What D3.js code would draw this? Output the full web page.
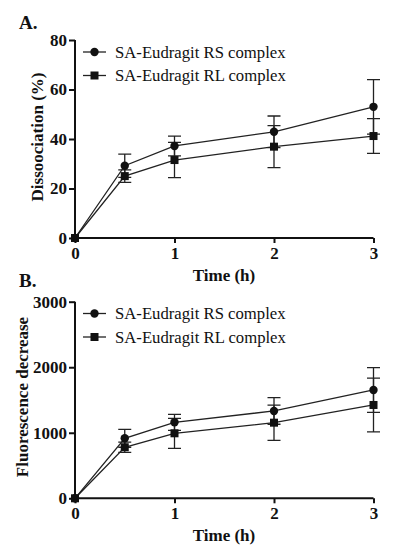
<!DOCTYPE html>
<html><head><meta charset="utf-8">
<script src="https://cdn.jsdelivr.net/npm/d3@7"></script>
<style>body{margin:0;background:#fff}svg{display:block}</style>
</head><body><svg id="c" width="397" height="550"></svg>
<script>
const time = [0, 0.5, 1, 2, 3];
const seriesNames = ["SA-Eudragit RS complex", "SA-Eudragit RL complex"];
// Panel A: Dissociation (%)
const aRS = [0, 29.2, 37.2, 42.9, 53.0];
const aRSerr = [0, 4.7, 4.0, 6.4, 11.0];
const aRL = [0, 25.0, 31.5, 36.9, 41.2];
const aRLerr = [0, 2.5, 7.1, 8.5, 7.0];
// Panel B: Fluorescence decrease
const bRS = [0, 916, 1160, 1333, 1653];
const bRSerr = [0, 137, 122, 203, 341];
const bRL = [0, 779, 992, 1154, 1424];
const bRLerr = [0, 77, 229, 269, 410];
const xTicks = [0, 1, 2, 3];
const aTicks = [0, 20, 40, 60, 80];
const bTicks = [0, 1000, 2000, 3000];

const svg = d3.select("#c");
const font = "'Liberation Serif','Times New Roman',serif";
const ink = "#111";

function panel(o) {
  const g = svg.append("g");
  const x = d3.scaleLinear().domain([0, 3]).range([75, 373.5]);
  const y = d3.scaleLinear().domain(o.ydom).range([o.y0, o.y1]);
  g.append("text").attr("x", 19).attr("y", o.labelY).text(o.letter)
    .attr("font-family", font).attr("font-weight", "bold").attr("font-size", 19).attr("fill", ink);
  const ya = g.append("g").attr("transform", "translate(75,0)")
    .call(d3.axisLeft(y).tickValues(o.ticks).tickSize(6).tickPadding(2).tickFormat(d3.format("d")));
  const xa = g.append("g").attr("transform", `translate(0,${o.y0})`)
    .call(d3.axisBottom(x).tickValues(xTicks).tickSize(5).tickPadding(4).tickFormat(d3.format("d")));
  [ya, xa].forEach(a => {
    a.select(".domain").attr("stroke", ink).attr("stroke-width", 2);
    a.selectAll(".tick line").attr("stroke", ink).attr("stroke-width", 2);
    a.selectAll("text").attr("font-family", font).attr("font-weight", "bold")
      .attr("font-size", 17).attr("fill", ink);
  });
  ya.select(".domain").attr("d", `M-0,${o.y1}V${o.y0}`);
  xa.select(".domain").attr("d", `M75,0H373.5`);
  g.append("text").attr("x", 224).attr("y", o.y0 + 43).attr("text-anchor", "middle")
    .text("Time (h)").attr("font-family", font).attr("font-weight", "bold").attr("font-size", 17).attr("fill", ink);
  g.append("text").attr("transform", `translate(${o.ylx},${o.yly}) rotate(-90)`)
    .attr("text-anchor", "middle").attr("dominant-baseline", "central")
    .text(o.ytitle).attr("font-family", font).attr("font-weight", "bold").attr("font-size", 17).attr("fill", ink);

  const series = [
    {v: o.rs, e: o.rse, shape: "circle"},
    {v: o.rl, e: o.rle, shape: "square"}
  ];
  const line = d3.line().x((d, i) => x(time[i])).y(d => y(d));
  series.forEach(s => {
    s.v.forEach((v, i) => {
      if (!s.e[i]) return;
      const cx = x(time[i]), t = y(v + s.e[i]), b = y(v - s.e[i]);
      g.append("path").attr("d", `M${cx},${t}V${b}M${cx-6.5},${t}H${cx+6.5}M${cx-6.5},${b}H${cx+6.5}`)
        .attr("stroke", "#222").attr("stroke-width", 1.3).attr("fill", "none");
    });
    g.append("path").attr("d", line(s.v)).attr("stroke", "#222").attr("stroke-width", 1.3).attr("fill", "none");
  });
  series.forEach(s => {
    s.v.forEach((v, i) => {
      const cx = x(time[i]), cy = y(v);
      if (s.shape === "circle") g.append("circle").attr("cx", cx).attr("cy", cy).attr("r", 4.2).attr("fill", ink);
      else g.append("rect").attr("x", cx - 4).attr("y", cy - 4).attr("width", 8).attr("height", 8).attr("fill", ink);
    });
  });
  seriesNames.forEach((n, i) => {
    const ly = o.legY + i * 23.5;
    g.append("path").attr("d", `M83,${ly}H106`).attr("stroke", "#222").attr("stroke-width", 1.3);
    if (i === 0) g.append("circle").attr("cx", 94.5).attr("cy", ly).attr("r", 4.2).attr("fill", ink);
    else g.append("rect").attr("x", 90.5).attr("y", ly - 4).attr("width", 8).attr("height", 8).attr("fill", ink);
    g.append("text").attr("x", 115).attr("y", ly).attr("dominant-baseline", "central").text(n)
      .attr("font-family", font).attr("font-size", 16.7).attr("fill", ink);
  });
}

panel({letter: "A.", labelY: 29, ydom: [0, 80], y0: 238, y1: 40, ticks: aTicks,
  ytitle: "Dissoociation (%)", ylx: 37, yly: 137, rs: aRS, rse: aRSerr, rl: aRL, rle: aRLerr, legY: 52});
panel({letter: "B.", labelY: 287, ydom: [0, 3000], y0: 498.3, y1: 301.7, ticks: bTicks,
  ytitle: "Fluorescence decrease", ylx: 22, yly: 397, rs: bRS, rse: bRSerr, rl: bRL, rle: bRLerr, legY: 313.5});
</script></body></html>
